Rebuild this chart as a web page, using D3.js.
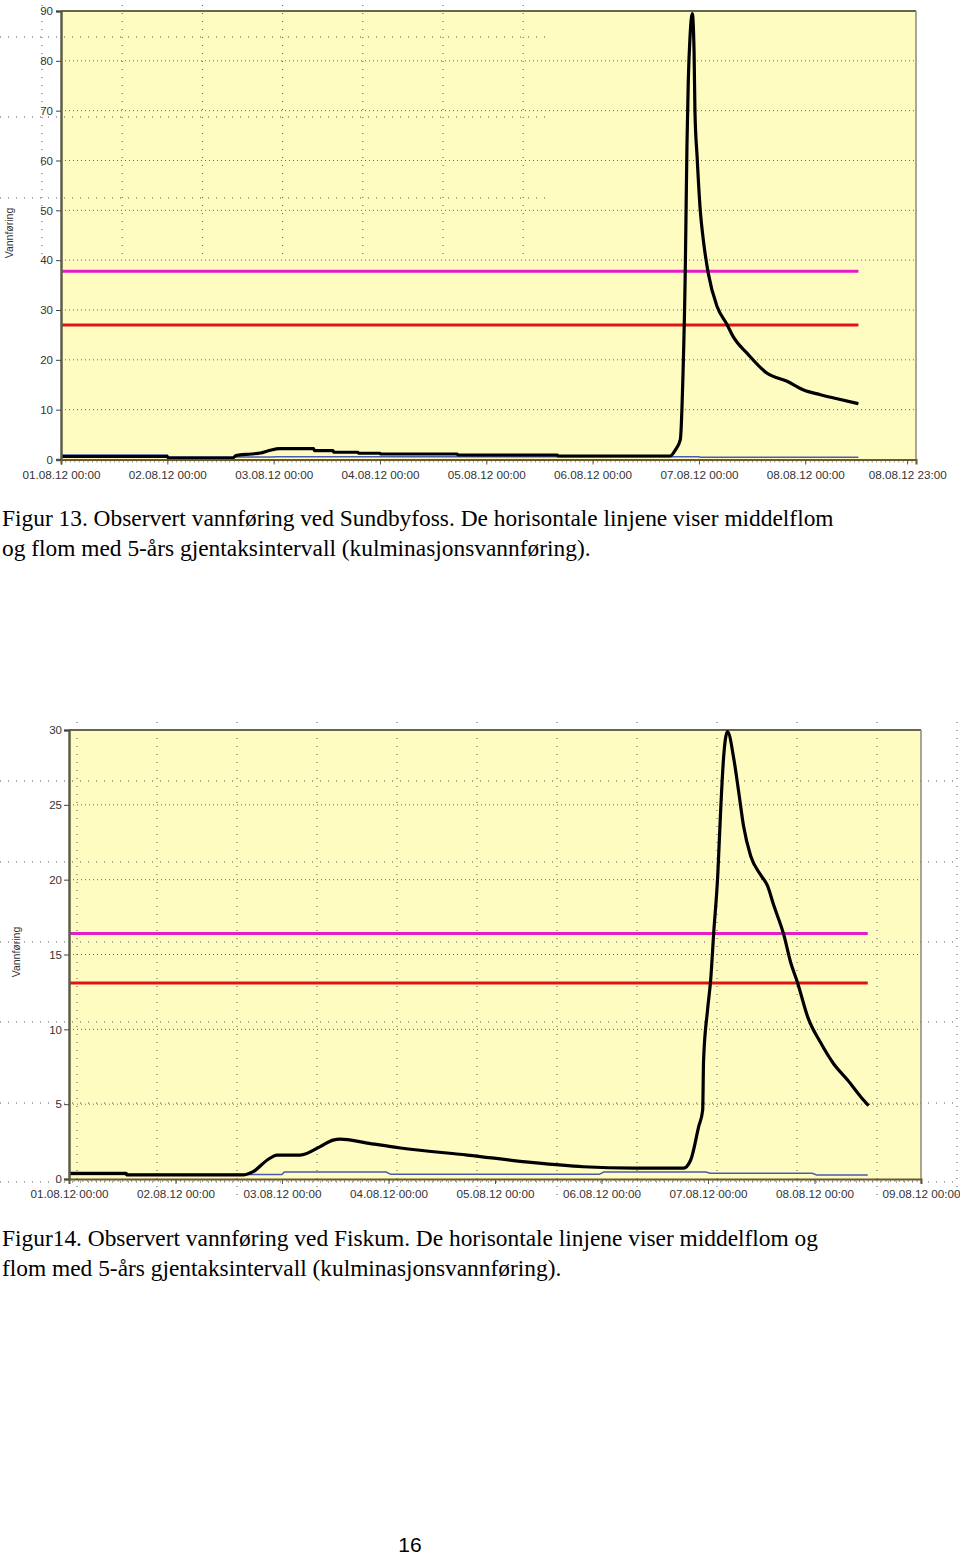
<!DOCTYPE html>
<html><head><meta charset="utf-8">
<script src="https://cdn.jsdelivr.net/npm/d3@7"></script>
<style>body{margin:0;background:#fff}svg{display:block}</style>
</head><body>
<svg id="c" width="960" height="1555"></svg>
<script>
// ---------- DATA ----------
// time given as hours after 01.08.12 00:00
const sundbyHours = [0,24,24.2,38.8,39.5,43,45,47,49.4,57,57.2,61.4,61.6,67,67.2,72,72.2,89.4,89.6,112,112.2,137.5,138.6,139.8,140.4,140.9,141.1,141.3,141.6,142,142.5,142.9,143.1,143.6,144.3,145,146.1,148.1,150.4,151.7,154.9,159.4,163.9,167.5,171.4,175.2,180];
const sundbyFlow  = [0.6,0.6,0.3,0.3,0.8,1.1,1.3,1.8,2.2,2.2,1.8,1.8,1.45,1.45,1.25,1.25,1.1,1.1,0.9,0.9,0.7,0.7,1.8,4,17,37,50,63,76,85,89.5,82,70,60.6,50,44,37.4,30.7,27,24.7,21.3,17.3,15.7,14,13,12.2,11.2];
const sundbyBlueHours = [0,24,24.2,48,48.2,144,144.2,180];
const sundbyBlueFlow  = [0.9,0.9,0.5,0.5,0.56,0.56,0.45,0.45];
const sundbyMiddelflom = 37.8;
const sundbyFlom5 = 27.0;

const fiskumHours = [0,12.9,13,39.2,41.5,44.7,46.9,52.1,56.6,59.5,61.1,67.2,74.7,89.8,104.7,115.9,127.2,138.5,140.1,141.9,142.8,143.0,143.9,144.6,145.3,146.2,146.8,147.5,148.4,149.8,150.9,152.0,153.6,155.9,157.4,158.8,161.1,162.6,164.2,166.5,169.4,172.3,175.5,178.4,180.2];
const fiskumFlow  = [0.38,0.38,0.27,0.27,0.49,1.27,1.6,1.6,2.16,2.6,2.67,2.4,2.07,1.6,1.09,0.82,0.73,0.73,1.27,3.5,4.6,7.9,11.3,13.3,16.5,20.3,24.3,28.1,29.9,28.1,25.9,23.6,21.6,20.3,19.6,18.3,16.3,14.5,13.1,10.8,9.1,7.7,6.6,5.5,4.9];
const fiskumBlueHours = [0,48,48.5,71.5,72.5,119.5,120.5,143.5,144.5,167.5,168.5,180];
const fiskumBlueFlow  = [0.3,0.3,0.47,0.47,0.31,0.31,0.47,0.47,0.38,0.38,0.27,0.27];
const fiskumMiddelflom = 16.4;
const fiskumFlom5 = 13.1;

const sundbyXTickHours  = [0,24,48,72,96,120,144,168,191];
const sundbyXTickLabels = ["01.08.12 00:00","02.08.12 00:00","03.08.12 00:00","04.08.12 00:00","05.08.12 00:00","06.08.12 00:00","07.08.12 00:00","08.08.12 00:00","08.08.12 23:00"];
const fiskumXTickHours  = [0,24,48,72,96,120,144,168,192];
const fiskumXTickLabels = ["01.08.12 00:00","02.08.12 00:00","03.08.12 00:00","04.08.12 00:00","05.08.12 00:00","06.08.12 00:00","07.08.12 00:00","08.08.12 00:00","09.08.12 00:00"];
const sundbyYTicks = [0,10,20,30,40,50,60,70,80,90];
const fiskumYTicks = [0,5,10,15,20,25,30];
const yTitle = "Vannføring";
const caption13 = ["Figur 13. Observert vannføring ved Sundbyfoss. De horisontale linjene viser middelflom",
                   "og flom med 5-års gjentaksintervall (kulminasjonsvannføring)."];
const caption14 = ["Figur14. Observert vannføring ved Fiskum. De horisontale linjene viser middelflom og",
                   "flom med 5-års gjentaksintervall (kulminasjonsvannføring)."];
const pageNumber = "16";

// ---------- DRAW ----------
const svg = d3.select("#c");
const FONT = "'Liberation Sans', Arial, sans-serif";

function ghostGrid(g, xs, y0, y1, ys, x0, x1){
  g.selectAll(null).data(xs).enter().append("line")
    .attr("x1",d=>d).attr("x2",d=>d).attr("y1",y0).attr("y2",y1)
    .attr("stroke","#555").attr("stroke-width",1).attr("stroke-dasharray","1,7");
  g.selectAll(null).data(ys).enter().append("line")
    .attr("y1",d=>d).attr("y2",d=>d).attr("x1",x0).attr("x2",x1)
    .attr("stroke","#555").attr("stroke-width",1).attr("stroke-dasharray","1,7");
}

function drawChart(o){
  const x = d3.scaleLinear().domain([0,o.xMax]).range([o.left,o.right]);
  const y = d3.scaleLinear().domain([0,o.yMax]).range([o.bottom,o.top]);
  const g = svg.append("g");
  g.append("rect").attr("x",o.left).attr("y",o.top).attr("width",o.right-o.left).attr("height",o.bottom-o.top)
    .attr("fill","#fffcc2");
  g.selectAll(null).data(o.yTicks.filter(d=>d>0 && d<o.yMax)).enter().append("line")
    .attr("x1",o.left).attr("x2",o.right).attr("y1",d=>y(d)).attr("y2",d=>y(d))
    .attr("stroke","#6a6a50").attr("stroke-width",1).attr("stroke-dasharray","1,3");
  ghostGrid(g, o.gx, o.gy0, o.gy1, o.gys, o.gx0, o.gx1);
  g.append("line").attr("x1",o.left).attr("x2",o.right).attr("y1",o.top).attr("y2",o.top)
    .attr("stroke","#66664e").attr("stroke-width",2);
  g.append("line").attr("x1",o.right).attr("x2",o.right).attr("y1",o.top).attr("y2",o.bottom)
    .attr("stroke","#8a8a7a").attr("stroke-width",1.5);
  const line = d3.line().x(d=>x(d[0])).y(d=>y(d[1]));
  g.append("path").datum(o.blueH.map((h,i)=>[h,o.blueV[i]]))
    .attr("d",line).attr("fill","none").attr("stroke","#4a5ab0").attr("stroke-width",1.5);
  g.append("path").datum([[0,o.mid],[o.endH,o.mid]]).attr("d",line)
    .attr("fill","none").attr("stroke","#e51dc8").attr("stroke-width",3);
  g.append("path").datum([[0,o.f5],[o.endH,o.f5]]).attr("d",line)
    .attr("fill","none").attr("stroke","#e31212").attr("stroke-width",3);
  g.append("path").datum(o.blackH.map((h,i)=>[h,o.blackV[i]]))
    .attr("d",line.curve(d3.curveMonotoneX)).attr("fill","none").attr("stroke","#000").attr("stroke-width",3.2)
    .attr("stroke-linejoin","round");
  line.curve(d3.curveLinear);
  const xa = g.append("g").attr("transform",`translate(0,${o.bottom})`)
    .call(d3.axisBottom(x).tickValues(d3.range(0,o.xMax+0.01,1)).tickSize(3).tickFormat(""));
  xa.select(".domain").remove();
  xa.selectAll("line").attr("stroke","#777").attr("stroke-width",0.8);
  const xb = g.append("g").attr("transform",`translate(0,${o.bottom})`)
    .call(d3.axisBottom(x).tickValues(o.xTickH).tickFormat((d,i)=>o.xTickL[i]).tickSize(5).tickPadding(o.xPad));
  xb.select(".domain").attr("stroke","#6b5a2a").attr("stroke-width",2);
  xb.selectAll("line").attr("stroke","#555");
  xb.selectAll("text").attr("font-family",FONT).attr("font-size","11.7px").attr("fill","#333");
  const ya = g.append("g").attr("transform",`translate(${o.left},0)`)
    .call(d3.axisLeft(y).tickValues(o.yTicks).tickSize(5).tickPadding(o.yPad));
  ya.select(".domain").attr("stroke","#5e5e48").attr("stroke-width",2.5);
  ya.selectAll("line").attr("stroke","#444");
  ya.selectAll("text").attr("font-family",FONT).attr("font-size","11.5px").attr("fill","#333");
  g.append("text").attr("transform",`translate(${o.titleX},${o.titleY}) rotate(-90)`)
    .attr("text-anchor","middle").attr("dominant-baseline","central")
    .attr("font-family",FONT).attr("font-size","10.5px").attr("fill","#333").text(yTitle);
  g.selectAll(null).data(o.caption).enter().append("text")
    .attr("x",2).attr("y",(d,i)=>o.capY+i*30)
    .attr("font-family","'Liberation Serif','Times New Roman',serif").attr("font-size","23.4px").attr("fill","#000")
    .text(d=>d);
}

drawChart({
  left:61, right:916, top:11, bottom:459.5, xMax:193, yMax:90,
  yTicks:sundbyYTicks, xTickH:sundbyXTickHours, xTickL:sundbyXTickLabels,
  blackH:sundbyHours, blackV:sundbyFlow, blueH:sundbyBlueHours, blueV:sundbyBlueFlow,
  mid:sundbyMiddelflom, f5:sundbyFlom5, endH:180,
  xPad:6.5, yPad:3, titleX:9, titleY:233,
  gx:d3.range(42,530,80.2), gy0:5, gy1:258, gys:[37,117,198], gx0:0, gx1:548,
  caption:caption13, capY:526
});
drawChart({
  left:69, right:921, top:730, bottom:1179, xMax:192, yMax:30,
  yTicks:fiskumYTicks, xTickH:fiskumXTickHours, xTickL:fiskumXTickLabels,
  blackH:fiskumHours, blackV:fiskumFlow, blueH:fiskumBlueHours, blueV:fiskumBlueFlow,
  mid:fiskumMiddelflom, f5:fiskumFlom5, endH:180,
  xPad:6, yPad:2, titleX:16, titleY:952,
  gx:d3.range(77,960,80), gy0:722, gy1:1198, gys:[781,862,942,1022,1103,1182], gx0:0, gx1:960,
  caption:caption14, capY:1246
});

svg.append("text").attr("x",410).attr("y",1552).attr("text-anchor","middle")
  .attr("font-family",FONT).attr("font-size","21px").attr("fill","#000").text(pageNumber);
</script>
</body></html>
